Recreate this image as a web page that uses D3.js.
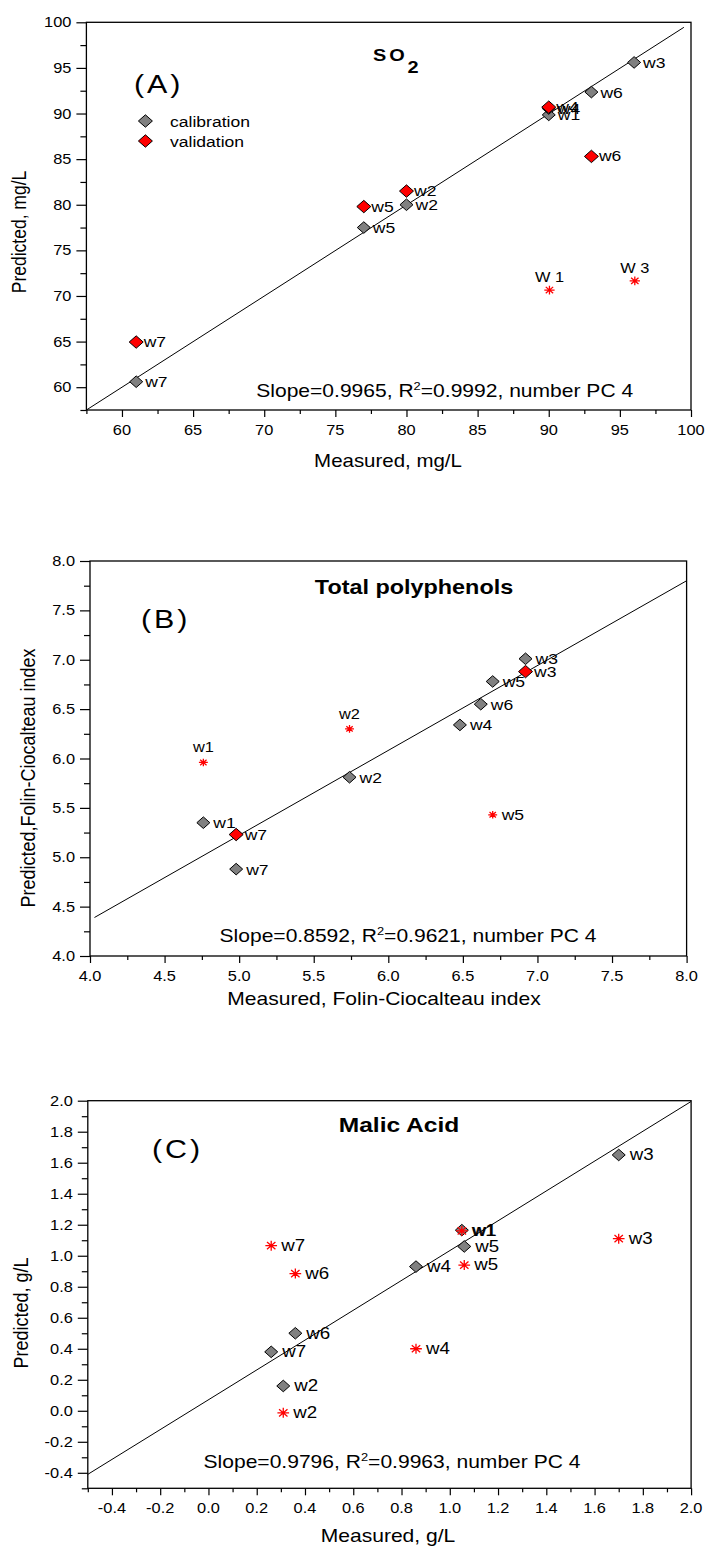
<!DOCTYPE html>
<html><head><meta charset="utf-8">
<script src="https://cdn.jsdelivr.net/npm/d3@7"></script>
<style>body{margin:0;background:#fff} svg{display:block}</style>
</head><body>
<svg id="c" width="706" height="1547"></svg>
<script>
// ---------- DATA ----------
// Panel A : SO2 (mg/L)
const aTicks = [60, 65, 70, 75, 80, 85, 90, 95, 100];
const aCalNames = ["w7", "w5", "w2", "w1", "w4", "w6", "w3"];
const aCalMeasured = [61, 77, 80, 90, 90, 93, 96];
const aCalPredicted = [60.6, 77.5, 80.0, 89.85, 90.55, 92.35, 95.6];
const aValNames = ["w7", "w5", "w2", "w4", "w6"];
const aValMeasured = [61, 77, 80, 90, 93];
const aValPredicted = [64.95, 79.8, 81.5, 90.7, 85.3];
const aOutNames = ["W 1", "W 3"];
const aOutMeasured = [90.05, 96.05];
const aOutPredicted = [70.65, 71.65];
const aFit = [[57.5, 57.5], [99.5, 99.45]];

// Panel B : Total polyphenols (Folin-Ciocalteau index)
const bTicks = [4.0, 4.5, 5.0, 5.5, 6.0, 6.5, 7.0, 7.5, 8.0];
const bCalNames = ["w1", "w7", "w2", "w4", "w6", "w5", "w3"];
const bCalMeasured = [4.76, 4.98, 5.74, 6.48, 6.62, 6.70, 6.92];
const bCalPredicted = [5.35, 4.88, 5.81, 6.34, 6.55, 6.78, 7.01];
const bValNames = ["w3", "w7"];
const bValMeasured = [6.92, 4.98];
const bValPredicted = [6.88, 5.23];
const bOutNames = ["w1", "w2", "w5"];
const bOutMeasured = [4.76, 5.74, 6.70];
const bOutPredicted = [5.96, 6.30, 5.43];
const bOutLabelAbove = [true, true, false];
const bFit = [[4.03, 4.39], [8.0, 7.80]];

// Panel C : Malic acid (g/L)
const cTicks = [-0.4, -0.2, 0.0, 0.2, 0.4, 0.6, 0.8, 1.0, 1.2, 1.4, 1.6, 1.8, 2.0];
const cCalNames = ["w3", "w1", "w5", "w4", "w6", "w7", "w2"];
const cCalMeasured = [1.70, 1.05, 1.06, 0.86, 0.36, 0.26, 0.31];
const cCalPredicted = [1.65, 1.165, 1.06, 0.93, 0.50, 0.38, 0.16];
const cOutNames = ["w1", "w7", "w6", "w5", "w3", "w4", "w2"];
const cOutMeasured = [1.05, 0.26, 0.36, 1.06, 1.70, 0.86, 0.31];
const cOutPredicted = [1.16, 1.065, 0.885, 0.94, 1.11, 0.40, -0.013];
const cFit = [[-0.5, -0.41], [2.0, 1.995]];

// ---------- STYLE / LAYOUT ----------
const SX = 1.17;               // horizontal stretch of the original figure
const FONT = "'Liberation Sans', Arial, Helvetica, sans-serif";
const GRAY = "#808080", RED = "#ff0000";
const svg = d3.select("#c");

function stext(g, x, y, str, size, opt = {}) {
  const t = g.append("text")
    .attr("transform", `translate(${x},${y}) scale(${SX},1)` + (opt.rot ? " rotate(-90)" : ""))
    .attr("font-family", FONT)
    .attr("font-size", size)
    .attr("font-weight", opt.bold ? "bold" : "normal")
    .attr("text-anchor", opt.anchor || "start")
    .attr("fill", opt.fill || "#000");
  if (opt.ls) t.attr("letter-spacing", opt.ls);
  if (str !== null) t.text(str);
  return t;
}

function diamondPath(hw, hh) {
  return `M0,${-hh}L${hw},0L0,${hh}L${-hw},0Z`;
}
function asteriskPath(r) {
  const d = r * 0.72;
  return `M0,${-r}L0,${r}M${-r * SX},0L${r * SX},0` +
    `M${-d * SX},${-d}L${d * SX},${d}M${-d * SX},${d}L${d * SX},${-d}`;
}

function panel(cfg) {
  const g = svg.append("g");
  const x = d3.scaleLinear().domain(cfg.xd).range([cfg.left, cfg.right]);
  const y = d3.scaleLinear().domain(cfg.yd).range([cfg.bottom, cfg.top]);
  const fmt = cfg.fmt;

  const minor = (ticks) => {
    const step = ticks[1] - ticks[0];
    const m = [];
    for (let i = -1; i < ticks.length; i++) m.push(+(ticks[0] + step * (i + 0.5)).toFixed(4));
    return m;
  };
  const xMinor = minor(cfg.ticks).filter(v => v >= cfg.xd[0] - 1e-9 && v <= cfg.xd[1] + 1e-9);
  const yMinor = minor(cfg.ticks).filter(v => v >= cfg.yd[0] - 1e-9 && v <= cfg.yd[1] + 1e-9);

  const axX = g.append("g").attr("transform", `translate(0,${cfg.bottom})`)
    .call(d3.axisBottom(x).tickValues(cfg.ticks).tickSize(7).tickFormat(""));
  const axXm = g.append("g").attr("transform", `translate(0,${cfg.bottom})`)
    .call(d3.axisBottom(x).tickValues(xMinor).tickSize(4).tickFormat(""));
  const axY = g.append("g").attr("transform", `translate(${cfg.left},0)`)
    .call(d3.axisLeft(y).tickValues(cfg.ticks).tickSize(10).tickFormat(""));
  const axYm = g.append("g").attr("transform", `translate(${cfg.left},0)`)
    .call(d3.axisLeft(y).tickValues(yMinor).tickSize(6).tickFormat(""));
  [axX, axXm, axY, axYm].forEach(a => {
    a.select(".domain").remove();
    a.selectAll("line").attr("stroke", "#000").attr("stroke-width", 1.2);
  });

  cfg.ticks.forEach(v => {
    stext(g, x(v), cfg.bottom + 25, fmt(v), 14, { anchor: "middle" });
    stext(g, cfg.left - 15, y(v) + 5, fmt(v), 14, { anchor: "end" });
  });

  g.append("rect").attr("x", cfg.left).attr("y", cfg.top)
    .attr("width", cfg.right - cfg.left).attr("height", cfg.bottom - cfg.top)
    .attr("fill", "none").attr("stroke", "#000").attr("stroke-width", 1.3);

  g.append("path")
    .attr("d", d3.line().x(d => x(d[0])).y(d => y(d[1]))(cfg.fit))
    .attr("stroke", "#000").attr("stroke-width", 1).attr("fill", "none");

  const lf = cfg.labelSize;
  (cfg.cal || []).forEach(p => {
    g.append("path").attr("d", diamondPath(6.5, 5.8))
      .attr("transform", `translate(${x(p.m)},${y(p.p)})`)
      .attr("fill", GRAY).attr("stroke", "#000").attr("stroke-width", 1);
  });
  (cfg.val || []).forEach(p => {
    g.append("path").attr("d", diamondPath(7, 6.2))
      .attr("transform", `translate(${x(p.m)},${y(p.p)})`)
      .attr("fill", RED).attr("stroke", "#000").attr("stroke-width", 1);
  });
  (cfg.out || []).forEach(p => {
    g.append("path").attr("d", asteriskPath(cfg.astR))
      .attr("transform", `translate(${x(p.m)},${y(p.p)})`)
      .attr("fill", "none").attr("stroke", RED).attr("stroke-width", 1.3);
  });
  (cfg.cal || []).forEach(p => {
    stext(g, x(p.m) + cfg.labDx, y(p.p) + 5.5, p.n, lf);
  });
  (cfg.val || []).forEach(p => {
    stext(g, x(p.m) + cfg.labDx - 1.5, y(p.p) + 5, p.n, lf);
  });
  (cfg.out || []).forEach(p => {
    if (p.above) stext(g, x(p.m), y(p.p) - cfg.aboveDy, p.n, lf - 1, { anchor: "middle" });
    else stext(g, x(p.m) + cfg.labDx - 1, y(p.p) + 5, p.n, lf);
  });
  return { g, x, y };
}

const f0 = v => String(v);
const f1 = v => v.toFixed(1);
const zip = (names, m, p, extra) => names.map((n, i) => ({ n, m: m[i], p: p[i], above: extra ? extra[i] : false }));

// ---------- PANEL A ----------
const A = panel({
  left: 86.4, right: 691, top: 22.3, bottom: 410,
  xd: [57.5, 100], yd: [57.5, 100], ticks: aTicks, fmt: f0, fit: aFit,
  cal: zip(aCalNames, aCalMeasured, aCalPredicted),
  val: zip(aValNames, aValMeasured, aValPredicted),
  out: zip(aOutNames, aOutMeasured, aOutPredicted, aOutNames.map(() => true)),
  labelSize: 15, labDx: 9, astR: 4.4, aboveDy: 8
});
{
  const g = A.g;
  const t = stext(g, 373, 61, null, 17, { bold: true, ls: 2.5 });
  t.append("tspan").text("SO");
  t.append("tspan").attr("dy", 12).text("2");
  stext(g, 134, 93, "(A)", 26, { ls: 2.5 });
  g.append("path").attr("d", diamondPath(7, 6.2)).attr("transform", "translate(145.4,121)")
    .attr("fill", GRAY).attr("stroke", "#000");
  g.append("path").attr("d", diamondPath(7, 6.2)).attr("transform", "translate(145.4,141)")
    .attr("fill", RED).attr("stroke", "#000");
  stext(g, 170, 127, "calibration", 15);
  stext(g, 170, 147, "validation", 15);
  const s = stext(g, 444.7, 397, null, 18, { anchor: "middle" });
  s.append("tspan").text("Slope=0.9965, R");
  s.append("tspan").attr("dy", -7).attr("font-size", 11).text("2");
  s.append("tspan").attr("dy", 7).text("=0.9992, number PC 4");
  stext(g, 388, 466.7, "Measured, mg/L", 17.5, { anchor: "middle" });
  stext(g, 26, 232, "Predicted, mg/L", 17.5, { anchor: "middle", rot: true });
}

// ---------- PANEL B ----------
const B = panel({
  left: 90, right: 686.6, top: 561, bottom: 956,
  xd: [4, 8], yd: [4, 8], ticks: bTicks, fmt: f1, fit: bFit,
  cal: zip(bCalNames, bCalMeasured, bCalPredicted),
  val: zip(bValNames, bValMeasured, bValPredicted),
  out: zip(bOutNames, bOutMeasured, bOutPredicted, bOutLabelAbove),
  labelSize: 15, labDx: 10, astR: 3.8, aboveDy: 10
});
{
  const g = B.g;
  stext(g, 414, 594.3, "Total polyphenols", 20, { bold: true, anchor: "middle" });
  stext(g, 141, 627.7, "(B)", 26, { ls: 2.5 });
  const s = stext(g, 408, 941.7, null, 18, { anchor: "middle" });
  s.append("tspan").text("Slope=0.8592, R");
  s.append("tspan").attr("dy", -7).attr("font-size", 11).text("2");
  s.append("tspan").attr("dy", 7).text("=0.9621, number PC 4");
  stext(g, 384, 1005, "Measured, Folin-Ciocalteau index", 18, { anchor: "middle" });
  stext(g, 35, 778, "Predicted,Folin-Ciocalteau index", 18, { anchor: "middle", rot: true });
}

// ---------- PANEL C ----------
const C = panel({
  left: 87.8, right: 691.1, top: 1100.7, bottom: 1488.3,
  xd: [-0.5, 2.0], yd: [-0.5, 2.0], ticks: cTicks, fmt: f1, fit: cFit,
  cal: zip(cCalNames, cCalMeasured, cCalPredicted),
  val: [],
  out: zip(cOutNames, cOutMeasured, cOutPredicted),
  labelSize: 16, labDx: 11, astR: 5, aboveDy: 10
});
{
  const g = C.g;
  stext(g, 399, 1131.7, "Malic Acid", 21, { bold: true, anchor: "middle" });
  stext(g, 152, 1158, "(C)", 26, { ls: 2.5 });
  const s = stext(g, 392, 1468.3, null, 18, { anchor: "middle" });
  s.append("tspan").text("Slope=0.9796, R");
  s.append("tspan").attr("dy", -7).attr("font-size", 11).text("2");
  s.append("tspan").attr("dy", 7).text("=0.9963, number PC 4");
  stext(g, 388, 1541.7, "Measured, g/L", 18, { anchor: "middle" });
  stext(g, 28, 1313, "Predicted, g/L", 18, { anchor: "middle", rot: true });
}
</script>
</body></html>
